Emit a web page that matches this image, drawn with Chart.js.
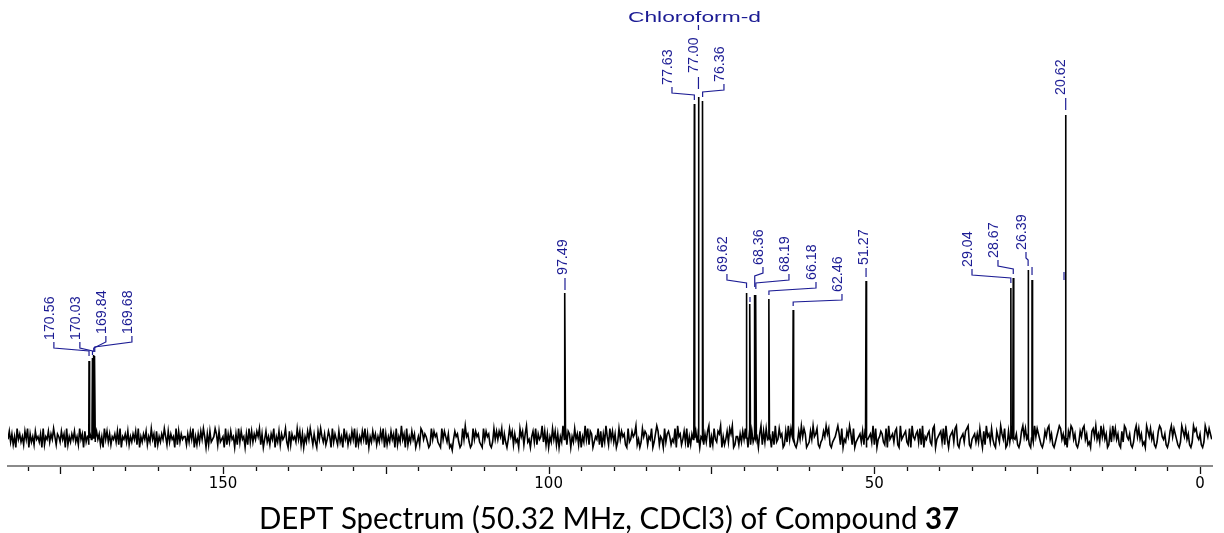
<!DOCTYPE html>
<html><head><meta charset="utf-8">
<script src="https://cdn.jsdelivr.net/npm/chart.js@4.4.1/dist/chart.umd.min.js"></script>
<style>html,body{margin:0;padding:0;background:#fff;}canvas{display:block;}</style>
</head><body>
<canvas id="c" width="1224" height="533"></canvas>
<script>
// ---- data ----
const peakPpm    = [170.56,170.03,169.84,169.68,97.49,77.63,77.00,76.36,69.62,69.09,68.36,68.19,66.18,62.46,51.27,29.04,28.67,26.39,25.79,20.62];
const peakHeight = [77,80,83,82,145,334,341,337,145,134,143,143,139,128,157,150,160,168,158,323];
const peakLabels = ['170.56','170.03','169.84','169.68','97.49','77.63','77.00','76.36','69.62','','68.36','68.19','66.18','62.46','51.27','29.04','28.67','26.39','','20.62'];
const labelledTicks = [0,50,100,150];
const noiseDigits =
 '4736251846352748163527453618254736485265374618253647352846173526485374625184736254637281546372' +
 '5364728153647253846172536485273645182736455263748152637485162734586273451826374516283745162837' +
 '3647582614735264815372645831726453847261537485263174853624751836427351846253748162537482615374' +
 '6253748162537461825394618253746135287465312847563218475361204756312849563128475632184756213847' +
 '47582631485726341857269341573826459372615384726153948276153846271539482761354827163952847361' +
 '38475621834756924138576254813697254183675243819562473815264973815426379152843769152473869125' +
 '52637485162738451692738465172934856127394856213749586123749568213475968213457962814375962813' +
 '45637281456392814576328194563782194567328195467382915467328914567382941567389214563789214563' +
 '6384172956384217539648127395846213795846217395864213758946213579846321759846213758946231785946' +
 '3958461273958462173985462137958462319758462137985462137958642139758462139785462139758641293758';
const ppmRange = [-1.84, 183.0];
const noiseStep = 0.2;
const solventName = 'Chloroform-d';
const solventPpm = 77.00;
const titleMain = 'DEPT Spectrum (50.32 MHz, CDCl3) of Compound ';
const titleBold = '37';

// ---- label layout (text position in ppm, vertical positions in px) ----
const labelLayout = [
 {tx:176.57,b:340,t:'elbow',y1:351,y2:356},
 {tx:172.58,b:340,t:'elbow',y1:351,y2:355},
 {tx:168.59,b:334,t:'elbow',y1:348,y2:352},
 {tx:164.59,b:334,t:'elbow',y1:347,y2:352},
 {tx:97.80,b:275,t:'dash',y1:278,y2:290},
 {tx:81.68,b:85,t:'elbow',y1:95,y2:100},
 {tx:77.69,b:73,t:'dash',y1:77,y2:89},
 {tx:73.70,b:82,t:'elbow',y1:92,y2:97},
 {tx:73.24,b:272,t:'elbow',y1:283,y2:288},
 {tx:null,b:0,t:'dash',y1:297,y2:302},
 {tx:67.71,b:265,t:'elbow',y1:276,y2:287},
 {tx:63.72,b:272,t:'elbow',y1:283,y2:289},
 {tx:59.57,b:280,t:'elbow',y1:291,y2:295},
 {tx:55.58,b:292,t:'elbow',y1:302,y2:306},
 {tx:51.58,b:265,t:'dash',y1:268,y2:277},
 {tx:35.62,b:267,t:'elbow',y1:278,y2:283},
 {tx:31.63,b:258,t:'elbow',y1:269,y2:274},
 {tx:27.33,b:250,t:'elbow',y1:260,y2:266},
 {tx:null,b:0,t:'dash',y1:267,y2:275},
 {tx:21.34,b:95,t:'dash',y1:98,y2:110}
];
const extraMarkers = [{ppm:20.88,y1:272,y2:280}];

// ---- build spectrum trace ----
const pts = [];
for (let i = 0; ; i++) {
  const x = ppmRange[1] - i * noiseStep;
  if (x < ppmRange[0]) break;
  const d = +noiseDigits[i % noiseDigits.length];
  pts.push({x: x, y: (d - 4.5) * 2.7});
}
peakPpm.forEach((p, i) => {
  pts.push({x: p + 0.08, y: 0}, {x: p, y: peakHeight[i]}, {x: p - 0.08, y: 0});
});
pts.sort((a, b) => b.x - a.x);

const BLUE = '#1c1c94';

const annot = {
  id: 'annot',
  afterDraw(chart) {
    const ctx = chart.ctx, xs = chart.scales.x;
    ctx.save();
    // tick marks
    ctx.strokeStyle = '#111'; ctx.lineWidth = 1.3;
    xs.ticks.forEach(t => {
      if (t.value < ppmRange[0] || t.value > ppmRange[1]) return;
      const px = Math.round(xs.getPixelForValue(t.value)) + 0.5;
      const len = (t.value % 25 === 0) ? 8 : 5;
      ctx.beginPath(); ctx.moveTo(px, xs.top + 1); ctx.lineTo(px, xs.top + len); ctx.stroke();
    });
    // peak labels
    ctx.strokeStyle = BLUE; ctx.fillStyle = BLUE; ctx.lineWidth = 1.2;
    ctx.font = '15px "Liberation Sans", Arial, sans-serif';
    labelLayout.forEach((L, i) => {
      const px = xs.getPixelForValue(peakPpm[i]);
      if (L.tx !== null && peakLabels[i]) {
        const tx = xs.getPixelForValue(L.tx);
        ctx.save();
        ctx.translate(tx, L.b);
        ctx.rotate(-Math.PI / 2);
        ctx.scale(0.95, 1);
        ctx.textAlign = 'left'; ctx.textBaseline = 'middle';
        ctx.fillText(peakLabels[i], 0, 0);
        ctx.restore();
        ctx.beginPath();
        if (L.t === 'elbow') {
          ctx.moveTo(tx + 4, L.b + 2); ctx.lineTo(tx + 4, L.b + 8);
          ctx.lineTo(px, L.y1); ctx.lineTo(px, L.y2);
        } else {
          ctx.moveTo(px, L.y1); ctx.lineTo(px, L.y2);
        }
        ctx.stroke();
      } else {
        ctx.beginPath(); ctx.moveTo(px, L.y1); ctx.lineTo(px, L.y2); ctx.stroke();
      }
    });
    extraMarkers.forEach(m => {
      const px = xs.getPixelForValue(m.ppm);
      ctx.beginPath(); ctx.moveTo(px, m.y1); ctx.lineTo(px, m.y2); ctx.stroke();
    });
    // solvent label
    const sx = xs.getPixelForValue(solventPpm);
    ctx.font = '14px "Liberation Sans", Arial, sans-serif';
    const sw = ctx.measureText(solventName).width;
    ctx.save();
    ctx.translate(sx - 4, 22);
    ctx.scale(133 / sw, 1);
    ctx.textAlign = 'center'; ctx.textBaseline = 'alphabetic';
    ctx.fillText(solventName, 0, 0);
    ctx.restore();
    ctx.beginPath(); ctx.moveTo(sx, 25); ctx.lineTo(sx, 30); ctx.stroke();
    // title
    ctx.fillStyle = '#000';
    const fN = '30px Lato, "Open Sans", sans-serif', fB = 'bold 30px Lato, "Open Sans", sans-serif';
    ctx.font = fN; const w1 = ctx.measureText(titleMain).width;
    ctx.font = fB; const w2 = ctx.measureText(titleBold).width;
    const k = 700 / (w1 + w2);
    ctx.save();
    ctx.translate(259, 529);
    ctx.scale(k, 1);
    ctx.textAlign = 'left'; ctx.textBaseline = 'alphabetic';
    ctx.font = fN; ctx.fillText(titleMain, 0, 0);
    ctx.font = fB; ctx.fillText(titleBold, w1, 0);
    ctx.restore();
    ctx.restore();
  }
};

new Chart(document.getElementById('c'), {
  type: 'line',
  data: { datasets: [{ data: pts, borderColor: '#000', borderWidth: 1.6, pointRadius: 0, tension: 0, fill: false }] },
  options: {
    responsive: false, animation: false,
    layout: { padding: { left: 8, right: 12, top: 66, bottom: 31 } },
    plugins: { legend: { display: false }, tooltip: { enabled: false } },
    scales: {
      x: {
        type: 'linear', reverse: true, min: ppmRange[0], max: ppmRange[1],
        grid: { display: false, drawTicks: false },
        border: { display: true, color: '#8a8a8a', width: 2 },
        ticks: {
          stepSize: 5, includeBounds: false, autoSkip: false, maxRotation: 0, padding: 9,
          color: '#000', font: { family: '"DejaVu Sans", sans-serif', size: 15 },
          callback: v => labelledTicks.includes(v) ? String(v) : ''
        }
      },
      y: { display: false, min: -28, max: 372 }
    }
  },
  plugins: [annot]
});
</script>
</body></html>
